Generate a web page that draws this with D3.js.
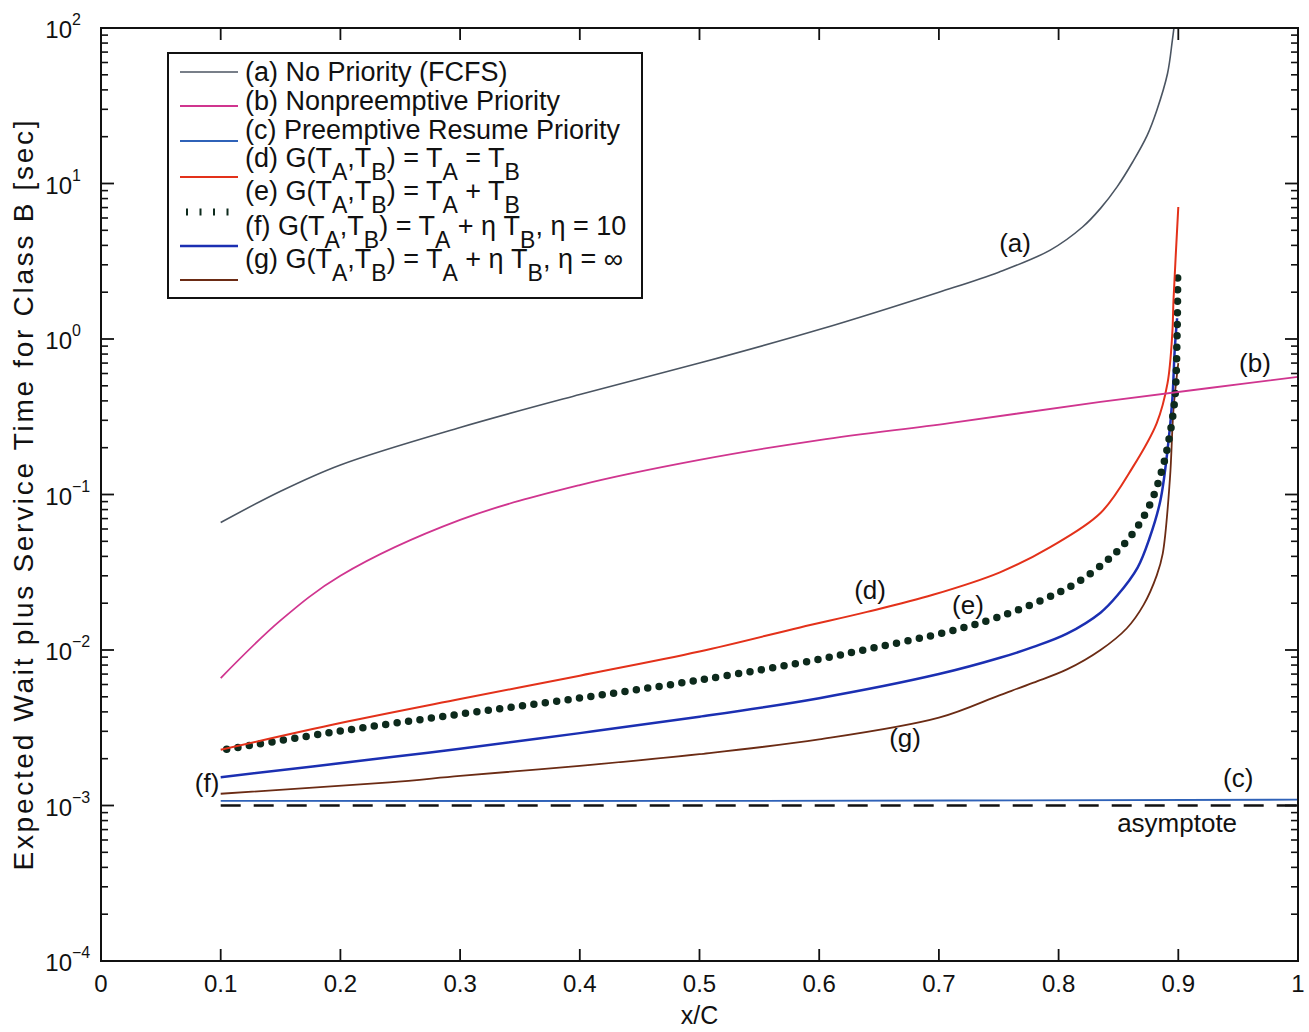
<!DOCTYPE html>
<html><head><meta charset="utf-8">
<script src="https://cdn.jsdelivr.net/npm/d3@7"></script>
<style>
body{margin:0;background:#fff;}
text{font-family:"Liberation Sans",Arial,Helvetica,sans-serif;fill:#111;}
</style></head>
<body>
<svg id="chart" width="1309" height="1032"></svg>
<script>
// ---------------- data ----------------
const xTicks = [0,0.1,0.2,0.3,0.4,0.5,0.6,0.7,0.8,0.9,1];
const xTickLabels = ["0","0.1","0.2","0.3","0.4","0.5","0.6","0.7","0.8","0.9","1"];
const yExponents = [-4,-3,-2,-1,0,1,2];
const yTickLabels = ["−4","−3","−2","−1","0","1","2"];

const aX = [0.1,0.15,0.2,0.3,0.4,0.5,0.6,0.7,0.75,0.793,0.82,0.835,0.849,0.862,0.874,0.882,0.891,0.895,0.897];
const aY = [0.066,0.105,0.155,0.27,0.44,0.70,1.15,2.0,2.69,3.73,5.25,6.92,9.55,13.8,20.4,29.5,51,83,110];

const bX = [0.1,0.15,0.2,0.3,0.4,0.5,0.6,0.709,0.835,0.926,1.0];
const bY = [0.0066,0.0155,0.030,0.0686,0.115,0.167,0.224,0.288,0.394,0.484,0.570];

const cX = [0.1,0.5,1.0];
const cY = [0.00107,0.00107,0.00109];

const asymX = [0.1,1.0];
const asymY = [0.001,0.001];

const dX = [0.1,0.2,0.3,0.4,0.5,0.584,0.640,0.695,0.751,0.793,0.835,0.862,0.882,0.891,0.895,0.896,0.900];
const dY = [0.00228,0.00339,0.00484,0.00684,0.00977,0.01396,0.01758,0.02265,0.0316,0.0459,0.076,0.150,0.288,0.52,1.09,1.78,7.06];

const eX = [0.105,0.2,0.3,0.4,0.5,0.6,0.634,0.709,0.749,0.789,0.815,0.839,0.854,0.868,0.879,0.887,0.891,0.897,0.899,0.8995];
const eY = [0.0023,0.00301,0.00387,0.00491,0.00641,0.00871,0.00989,0.01318,0.01622,0.02138,0.0270,0.0368,0.0473,0.0656,0.0964,0.150,0.202,0.406,1.09,2.86];

const fX = [0.1,0.241,0.3,0.4,0.5,0.6,0.7,0.751,0.779,0.807,0.835,0.849,0.866,0.876,0.885,0.891,0.895,0.897,0.899];
const fY = [0.00152,0.00204,0.00232,0.00292,0.00372,0.0049,0.0070,0.00891,0.01047,0.01274,0.01738,0.0224,0.0339,0.0525,0.0912,0.193,0.406,0.849,1.36];

const gX = [0.1,0.241,0.3,0.4,0.5,0.6,0.7,0.751,0.779,0.807,0.835,0.857,0.871,0.882,0.887,0.893,0.896,0.900];
const gY = [0.00119,0.00141,0.00155,0.0018,0.00214,0.00266,0.00367,0.00513,0.00617,0.0075,0.0100,0.0138,0.0195,0.0302,0.0417,0.126,0.355,0.70];

const legendLabels = [
  [["(a) No Priority (FCFS)",0]],
  [["(b) Nonpreemptive Priority",0]],
  [["(c) Preemptive Resume Priority",0]],
  [["(d) G(T",0],["A",1],[",T",0],["B",1],[") = T",0],["A",1],[" = T",0],["B",1]],
  [["(e) G(T",0],["A",1],[",T",0],["B",1],[") = T",0],["A",1],[" + T",0],["B",1]],
  [["(f) G(T",0],["A",1],[",T",0],["B",1],[") = T",0],["A",1],[" + η T",0],["B",1],[", η = 10",0]],
  [["(g) G(T",0],["A",1],[",T",0],["B",1],[") = T",0],["A",1],[" + η T",0],["B",1],[", η = ∞",0]]
];

const annotations = [
  {t:"(a)",x:0.7636,y:4.14},
  {t:"(b)",x:0.964,y:0.70},
  {t:"(c)",x:0.950,y:0.00150},
  {t:"asymptote",x:0.899,y:0.00077},
  {t:"(d)",x:0.6425,y:0.0243},
  {t:"(e)",x:0.7243,y:0.01946},
  {t:"(f)",x:0.0886,y:0.0014},
  {t:"(g)",x:0.6717,y:0.00272}
];

// ---------------- drawing ----------------
const svg = d3.select("#chart");
const L=101, R=1298, T=28, B=961;
const x = d3.scaleLinear().domain([0,1]).range([L,R]);
const y = d3.scaleLog().domain([1e-4,1e2]).range([B,T]);

const defs = svg.append("defs");
defs.append("clipPath").attr("id","clip").append("rect")
  .attr("x",L).attr("y",T).attr("width",R-L).attr("height",B-T);

const series = [
  {xs:aX,ys:aY,color:"#4b5562",w:1.6},
  {xs:bX,ys:bY,color:"#d0358f",w:1.8},
  {xs:cX,ys:cY,color:"#2f62b8",w:1.8},
  {xs:dX,ys:dY,color:"#e3311a",w:2.0},
  {xs:eX,ys:eY,color:"#0d2a1c",w:7.5,dots:true},
  {xs:fX,ys:fY,color:"#1b2fb2",w:2.5},
  {xs:gX,ys:gY,color:"#6b2b14",w:1.8}
];

const line = d3.line().x(d=>x(d[0])).y(d=>y(d[1])).curve(d3.curveCatmullRom.alpha(0.5));
const plot = svg.append("g").attr("clip-path","url(#clip)");

plot.append("path")
  .datum(asymX.map((v,i)=>[v,asymY[i]]))
  .attr("d",line).attr("fill","none").attr("stroke","#111")
  .attr("stroke-width",2.4).attr("stroke-dasharray","20,13");

[6,5,4,3,2,1,0].forEach(i=>{
  const s = series[i];
  const p = plot.append("path")
    .datum(s.xs.map((v,j)=>[v,s.ys[j]]))
    .attr("d",line).attr("fill","none")
    .attr("stroke",s.color).attr("stroke-width",s.w);
  if(s.dots){ p.attr("stroke-linecap","round").attr("stroke-dasharray","0,11.5"); }
});

const ax = svg.append("g");
ax.append("rect").attr("x",L).attr("y",T).attr("width",R-L).attr("height",B-T)
  .attr("fill","none").attr("stroke","#111").attr("stroke-width",2);

xTicks.forEach((v,i)=>{
  const px = x(v);
  ax.append("line").attr("x1",px).attr("x2",px).attr("y1",B).attr("y2",B-12).attr("stroke","#111").attr("stroke-width",1.8);
  ax.append("line").attr("x1",px).attr("x2",px).attr("y1",T).attr("y2",T+12).attr("stroke","#111").attr("stroke-width",1.8);
  ax.append("text").attr("x",px).attr("y",992).attr("text-anchor","middle")
    .attr("font-size",24).text(xTickLabels[i]);
});

yExponents.forEach((e,i)=>{
  const py = y(Math.pow(10,e));
  [[L,1],[R,-1]].forEach(([bx,dir])=>{
    ax.append("line").attr("x1",bx).attr("x2",bx+dir*13).attr("y1",py).attr("y2",py).attr("stroke","#111").attr("stroke-width",1.8);
  });
  if(e<2){
    for(let m=2;m<=9;m++){
      const pm = y(m*Math.pow(10,e));
      [[L,1],[R,-1]].forEach(([bx,dir])=>{
        ax.append("line").attr("x1",bx).attr("x2",bx+dir*7).attr("y1",pm).attr("y2",pm).attr("stroke","#111").attr("stroke-width",1.6);
      });
    }
  }
  ax.append("text").attr("x",72).attr("y",py+10).attr("text-anchor","end").attr("font-size",24).text("10");
  ax.append("text").attr("x",72).attr("y",py-3).attr("text-anchor","start").attr("font-size",16).text(yTickLabels[i]);
});

svg.append("text").attr("x",x(0.5)).attr("y",1024).attr("text-anchor","middle").attr("font-size",25).text("x/C");
svg.append("text").attr("transform",`translate(33,${(T+B)/2 + 1}) rotate(-90)`).attr("text-anchor","middle")
  .attr("font-size",28).attr("textLength",750).attr("lengthAdjust","spacing")
  .text("Expected Wait plus Service Time for Class B [sec]");

annotations.forEach(a=>{
  svg.append("text").attr("x",x(a.x)).attr("y",y(a.y)).attr("text-anchor","middle")
    .attr("dominant-baseline","central").attr("font-size",26).text(a.t);
});

// legend
const lg = svg.append("g");
lg.append("rect").attr("x",168).attr("y",53).attr("width",474).attr("height",245)
  .attr("fill","#fff").attr("stroke","#111").attr("stroke-width",2);
const sampleY = [72,106,141,177,212,246,280];
const textY = [81,110,139,167,200,235,268];
series.forEach((s,i)=>{
  const l = lg.append("line").attr("x1",180).attr("x2",238).attr("y1",sampleY[i]).attr("y2",sampleY[i])
    .attr("stroke",s.color).attr("stroke-width",s.dots?7:s.w);
  if(s.dots){ l.attr("stroke-dasharray","2,11.5").attr("x1",186); }
  const t = lg.append("text").attr("x",245).attr("y",textY[i]).attr("font-size",27);
  let cur = 0;
  legendLabels[i].forEach(([str,sub])=>{
    const dy = sub ? 13 - cur : -cur;
    cur = sub ? 13 : 0;
    t.append("tspan").attr("dy",dy).attr("font-size",sub?23:27).text(str);
  });
});
</script>
</body></html>
